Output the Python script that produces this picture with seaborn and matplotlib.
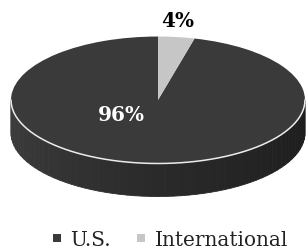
import numpy as np
import matplotlib
matplotlib.use("Agg")
import matplotlib.pyplot as plt
from matplotlib.lines import Line2D
import seaborn as sns

# === DATA ===
categories = ["U.S.", "International"]
shares = [96, 4]
top_colors = ["#3a3a3a", "#c6c6c6"]

sns.set_theme(style="white")
plt.rcParams["font.family"] = ["DejaVu Serif"]

# === FIGURE ===
fig = plt.figure(figsize=(3.06, 2.53), dpi=100)
ax = fig.add_axes([0, 0, 1, 1])

# pie on a unit circle, squashed to an ellipse by the axis limits
wedges, _ = ax.pie(shares, colors=top_colors, startangle=90, counterclock=True,
                   radius=1, center=(0, 0), wedgeprops=dict(linewidth=0), frame=True)
for w in wedges:
    w.set_zorder(3)

# === SIDE OF THE DISC ===
depth = 0.52
n = 60
theta = np.linspace(np.pi, 2 * np.pi, n + 1)
side_cols = sns.blend_palette(["#3e3e3e", "#2a2a2a", "#1c1c1c"], n)
for i in range(n):
    t = theta[i:i + 2]
    xs = np.concatenate([np.cos(t), np.cos(t[::-1])])
    ys = np.concatenate([np.sin(t), np.sin(t[::-1]) - depth])
    ax.fill(xs, ys, color=side_cols[i], linewidth=0.6, edgecolor=side_cols[i], zorder=1)

# white rim along the front edge of the top face
ax.plot(np.cos(theta), np.sin(theta), color="#ececec", linewidth=1.1, zorder=4)

# === LABELS ===
ax.text(-0.25, -0.22, f"{shares[0]}%", color="white", fontsize=14.4,
        fontweight="bold", ha="center", va="center", zorder=5)
ax.text(0.136, 1.26, f"{shares[1]}%", color="black", fontsize=14.4,
        fontweight="bold", ha="center", va="center", zorder=5)

ax.set_aspect("auto")
ax.set_xlim(-1.075, 1.007)
ax.set_ylim(-2.394, 1.591)
ax.axis("off")

# === LEGEND ===
handles = [Line2D([], [], marker="s", linestyle="", markersize=6,
                  markerfacecolor=c, markeredgewidth=0) for c in top_colors]
ax.legend(handles, categories, loc="center", bbox_to_anchor=(0.555, 0.05),
          ncol=2, frameon=False, fontsize=14.4, handlelength=0.5,
          handletextpad=0.4, columnspacing=1.3, borderpad=0, borderaxespad=0,
          labelcolor="#222222")

fig.savefig("out.png", dpi=100)
